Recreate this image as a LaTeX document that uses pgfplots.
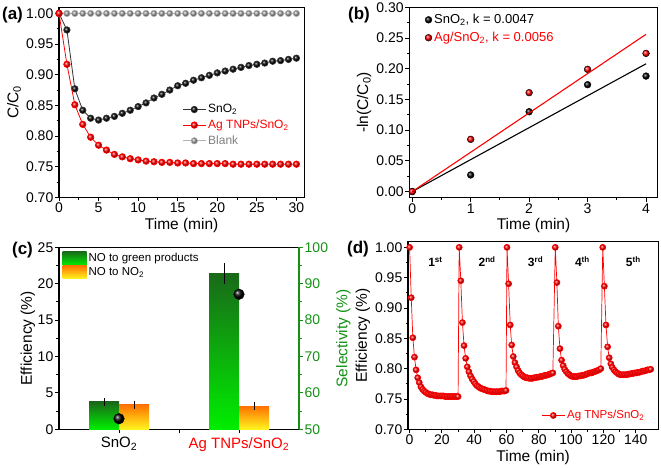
\documentclass[border=0pt]{standalone}
\usepackage{fontspec}
\setmainfont{Liberation Sans}
\usepackage{pgfplots}
\pgfplotsset{compat=1.18}
\definecolor{selgreen}{RGB}{20,145,20}
\definecolor{gtop}{RGB}{25,105,25}
\definecolor{gbot}{RGB}{0,238,0}
\definecolor{otop}{RGB}{255,115,0}
\definecolor{obot}{RGB}{255,245,30}
\newcommand{\tickfont}{\fontsize{14}{16}\selectfont}
\newcommand{\labfont}{\fontsize{15.5}{18}\selectfont}
\pgfplotsset{
  myaxis/.style={
    scale only axis,
    /pgf/number format/assume math mode=true,
    tick label style={font=\tickfont, inner sep=1.5pt},
    label style={font=\labfont},
    axis line style={line width=1.1pt},
    every tick/.style={black, line width=0.9pt},
    major tick length=4pt,
    minor tick length=2.5pt,
    tick align=outside,
    clip mode=individual,
  },
  twodec/.style={yticklabel style={/pgf/number format/.cd, fixed, fixed zerofill, precision=2}},
}
\pgfplotstableread{
t sno ag blank
0 1.000 1.000 1.0
1 0.973 0.917 1.0
2 0.877 0.851 1.0
3 0.842 0.819 1.0
4 0.829 0.798 1.0
5 0.826 0.785 1.0
6 0.829 0.777 1.0
7 0.832 0.770 1.0
8 0.837 0.766 1.0
9 0.842 0.763 1.0
10 0.848 0.761 1.0
11 0.854 0.759 1.0
12 0.862 0.758 1.0
13 0.868 0.757 1.0
14 0.875 0.757 1.0
15 0.882 0.756 1.0
16 0.886 0.756 1.0
17 0.891 0.755 1.0
18 0.895 0.755 1.0
19 0.899 0.755 1.0
20 0.903 0.755 1.0
21 0.906 0.755 1.0
22 0.909 0.754 1.0
23 0.912 0.754 1.0
24 0.915 0.754 1.0
25 0.917 0.754 1.0
26 0.919 0.754 1.0
27 0.922 0.754 1.0
28 0.923 0.754 1.0
29 0.925 0.754 1.0
30 0.927 0.754 1.0
}\dataA
\pgfplotstableread{
t v
0 1.000
1 0.917
2 0.851
3 0.819
4 0.798
5 0.785
6 0.777
7 0.770
8 0.766
9 0.763
10 0.761
11 0.759
12 0.758
13 0.757
14 0.757
15 0.756
16 0.756
17 0.755
18 0.755
19 0.755
20 0.755
21 0.755
22 0.754
23 0.754
24 0.754
25 0.754
26 0.754
27 0.754
28 0.754
29 0.754
30 0.754
30.7 1.000
31.7 0.945
32.7 0.876
33.7 0.838
34.7 0.817
35.7 0.803
36.7 0.795
37.7 0.788
38.7 0.783
39.7 0.779
40.7 0.775
41.7 0.772
42.7 0.770
43.7 0.768
44.7 0.767
45.7 0.766
46.7 0.765
47.7 0.764
48.7 0.763
49.7 0.763
50.7 0.762
51.7 0.762
52.7 0.762
53.7 0.762
54.7 0.762
55.7 0.762
56.7 0.763
57.7 0.763
58.7 0.763
59.7 0.764
60.3 1.000
61.3 0.940
62.3 0.872
63.2 0.839
64.2 0.820
65.2 0.810
66.2 0.803
67.2 0.797
68.1 0.793
69.1 0.790
70.1 0.788
71.1 0.786
72.1 0.785
73.0 0.785
74.0 0.784
75.0 0.784
76.0 0.784
77.0 0.785
77.9 0.785
78.9 0.786
79.9 0.786
80.9 0.787
81.9 0.787
82.8 0.788
83.8 0.789
84.8 0.789
85.8 0.790
86.8 0.791
87.7 0.792
88.7 0.793
90.2 1.000
91.2 0.942
92.1 0.870
93.1 0.833
94.1 0.814
95.1 0.805
96.0 0.799
97.0 0.795
98.0 0.792
98.9 0.790
99.9 0.788
100.9 0.787
101.9 0.787
102.8 0.787
103.8 0.787
104.8 0.788
105.8 0.788
106.7 0.789
107.7 0.789
108.7 0.790
109.6 0.791
110.6 0.792
111.6 0.793
112.6 0.793
113.5 0.794
114.5 0.795
115.5 0.796
116.4 0.797
117.4 0.798
118.4 0.800
119.6 1.000
120.6 0.936
121.6 0.872
122.6 0.836
123.6 0.818
124.6 0.808
125.5 0.802
126.5 0.798
127.5 0.795
128.5 0.793
129.5 0.791
130.5 0.790
131.5 0.790
132.5 0.790
133.5 0.790
134.5 0.790
135.4 0.791
136.4 0.791
137.4 0.792
138.4 0.792
139.4 0.793
140.4 0.793
141.4 0.794
142.4 0.794
143.4 0.795
144.4 0.796
145.3 0.796
146.3 0.797
147.3 0.798
148.3 0.798
149.3 0.799
}\dataD
\begin{document}
\begin{tikzpicture}
\path[use as bounding box] (0pt,0pt) rectangle (661pt,468pt);
% ---------------- (a)
\begin{axis}[myaxis, twodec, tick pos=left,
  at={(59pt,270.7pt)}, anchor=south west, width=245.3pt, height=190pt,
  xmin=0, xmax=31, ymin=0.70, ymax=1.01,
  xtick={0,5,10,15,20,25,30}, ytick={0.70,0.75,0.80,0.85,0.90,0.95,1.00},
  minor x tick num=1, minor y tick num=1,
  xlabel={Time (min)}, ylabel={C/C\textsubscript{0}},
]
\addplot[gray!60, line width=0.7pt, mark=ball, mark size=3.2pt, mark options={ball color=gray!80}] table[x=t,y=blank] {\dataA};
\addplot[black!80, line width=0.8pt, mark=ball, mark size=3.2pt, mark options={ball color=black}] table[x=t,y=sno] {\dataA};
\addplot[red, line width=0.8pt, mark=ball, mark size=3.2pt, mark options={ball color=red}] table[x=t,y=ag] {\dataA};
\end{axis}
% legend for (a)
\begin{axis}[myaxis, at={(59pt,270.7pt)}, anchor=south west, width=245.3pt, height=190pt,
  xmin=0, xmax=31, ymin=0.70, ymax=1.01, hide axis,
  legend style={at={(0.49,0.51)}, anchor=north west, draw=none, fill=none,
    font=\fontsize{12}{14}\selectfont, row sep=1.5pt},
  legend cell align=left,
  legend image code/.code={\draw[mark repeat=2,mark phase=2,#1] plot coordinates {(0pt,0pt)(11.5pt,0pt)(23pt,0pt)};},
]
\addplot[black!80, line width=0.8pt, mark=ball, mark size=3.2pt, mark options={ball color=black}] coordinates {(-5,0)};
\addlegendentry{SnO\textsubscript{2}}
\addplot[red, line width=0.8pt, mark=ball, mark size=3.2pt, mark options={ball color=red}] coordinates {(-5,0)};
\addlegendentry{\textcolor{red}{Ag TNPs/SnO\textsubscript{2}}}
\addplot[gray!60, line width=0.7pt, mark=ball, mark size=3.2pt, mark options={ball color=gray!80}] coordinates {(-5,0)};
\addlegendentry{\textcolor{gray}{Blank}}
\end{axis}
% ---------------- (b)
\begin{axis}[myaxis, twodec, tick pos=left,
  at={(409.3pt,270.3pt)}, anchor=south west, width=248.4pt, height=190.4pt,
  xmin=-0.05, xmax=4.2, ymin=-0.01, ymax=0.30,
  xtick={0,1,2,3,4}, ytick={0,0.05,0.10,0.15,0.20,0.25,0.30},
  minor x tick num=1, minor y tick num=1,
  xlabel={Time (min)}, ylabel={-ln(C/C\textsubscript{0})},
  legend style={at={(0.05,0.985)}, anchor=north west, draw=none, fill=none,
    font=\fontsize{13}{15}\selectfont, row sep=3pt},
  legend cell align=left,
]
\addplot[only marks, mark=ball, mark size=3.4pt, mark options={ball color=black}] coordinates {(0,0)(1,0.027)(2,0.130)(3,0.174)(4,0.188)};
\addlegendentry{SnO\textsubscript{2}, k = 0.0047}
\addplot[only marks, mark=ball, mark size=3.4pt, mark options={ball color=red}] coordinates {(0,0)(1,0.085)(2,0.161)(3,0.199)(4,0.225)};
\addlegendentry{\textcolor{red}{Ag/SnO\textsubscript{2}, k = 0.0056}}
\addplot[black, line width=1.1pt, forget plot] coordinates {(0,0)(4,0.208)};
\addplot[red, line width=1.1pt, forget plot] coordinates {(0,0)(4,0.256)};
\end{axis}
% ---------------- (c)
\begin{axis}[myaxis, tick pos=left,
  at={(59pt,38.7pt)}, anchor=south west, width=240pt, height=182pt,
  xmin=0.5, xmax=2.5, ymin=0, ymax=25,
  xtick={1,1.5,2}, xticklabels={SnO\textsubscript{2},,\textcolor{red}{Ag TNPs/SnO\textsubscript{2}}},
  xticklabel style={font=\fontsize{15}{18}\selectfont, inner sep=4pt},
  ytick={0,5,10,15,20,25}, minor y tick num=1,
  ylabel={Efficiency (\%)}, ylabel shift=-2.5pt,
  legend style={at={(0.01,0.985)}, anchor=north west, draw=none, fill=none,
    font=\fontsize{11.5}{13}\selectfont, row sep=0pt, inner sep=1pt},
  legend cell align=left,
]
\addplot[ybar, bar width=0.25, bar shift=-0.125, draw=none, top color=gtop, bottom color=gbot,
  legend image code/.code={\shade[top color=gtop,bottom color=gbot] (0pt,-7pt) rectangle (24pt,7pt);}]
  coordinates {(1,3.75)};
\addlegendentry{NO to green products}
\addplot[ybar, bar width=0.25, bar shift=0.125, draw=none, top color=otop, bottom color=obot,
  legend image code/.code={\shade[top color=otop,bottom color=obot] (0pt,-6.5pt) rectangle (24pt,6.5pt);}]
  coordinates {(1,3.35)};
\addlegendentry{NO to NO\textsubscript{2}}
\addplot[ybar, bar width=0.25, bar shift=-0.125, draw=none, top color=gtop, bottom color=gbot, forget plot]
  coordinates {(2,21.4)};
\addplot[ybar, bar width=0.25, bar shift=0.125, draw=none, top color=otop, bottom color=obot, forget plot]
  coordinates {(2,3.15)};
\addplot[draw=none, mark=none, forget plot,
  error bars/.cd, y dir=both, y explicit,
  error bar style={black, line width=0.9pt},
  error mark options={black, mark size=2.5pt, line width=0.9pt}]
  coordinates {(0.875,3.75) +- (0,0.2) (1.125,3.35) +- (0,0.25) (1.875,21.4) +- (0,1.1) (2.125,3.15) +- (0,0.2)};
\end{axis}
\begin{axis}[myaxis,
  at={(59pt,38.7pt)}, anchor=south west, width=240pt, height=182pt,
  xmin=0.5, xmax=2.5, ymin=50, ymax=100,
  axis y line*=right, axis x line=none,
  ytick pos=right, yticklabel pos=right,
  ytick={50,60,70,80,90,100}, minor y tick num=1,
  y axis line style={selgreen, line width=1.1pt},
  every tick/.style={selgreen, line width=0.9pt},
  yticklabel style={text=selgreen},
  ylabel style={text=selgreen},
  ylabel={Selectivity (\%)}, ylabel shift=3pt,
]
\addplot[only marks, mark=ball, mark size=5.3pt, mark options={ball color=black}] coordinates {(1,52.9)(2,87.1)};
\end{axis}
% ---------------- (d)
\begin{axis}[myaxis, twodec, tick pos=left,
  at={(408pt,38.7pt)}, anchor=south west, width=250.3pt, height=188pt,
  xmin=-1, xmax=154, ymin=0.70, ymax=1.01,
  xtick={0,20,40,60,80,100,120,140}, ytick={0.70,0.75,0.80,0.85,0.90,0.95,1.00},
  minor x tick num=1, minor y tick num=1,
  xlabel={Time (min)}, ylabel={Efficiency (\%)},
  legend style={at={(0.965,0.025)}, anchor=south east, draw=none, fill=none,
    font=\fontsize{11.5}{13}\selectfont},
  legend image code/.code={\draw[mark repeat=2,mark phase=2,#1] plot coordinates {(0pt,0pt)(11.5pt,0pt)(23pt,0pt)};},
]
\addplot[red, line width=0.7pt, mark=ball, mark size=3pt, mark options={ball color=red}] table[x=t,y=v] {\dataD};
\addlegendentry{\textcolor{red}{Ag TNPs/SnO\textsubscript{2}}}
\node[font=\bfseries\fontsize{12}{14}\selectfont] at (axis cs:16,0.976) {1\textsuperscript{st}};
\node[font=\bfseries\fontsize{12}{14}\selectfont] at (axis cs:48,0.976) {2\textsuperscript{nd}};
\node[font=\bfseries\fontsize{12}{14}\selectfont] at (axis cs:78,0.976) {3\textsuperscript{rd}};
\node[font=\bfseries\fontsize{12}{14}\selectfont] at (axis cs:107,0.976) {4\textsuperscript{th}};
\node[font=\bfseries\fontsize{12}{14}\selectfont] at (axis cs:138.5,0.976) {5\textsuperscript{th}};
\end{axis}
% panel labels
\node[font=\bfseries\fontsize{17}{20}\selectfont] at (12.5pt,452.5pt) {(a)};
\node[font=\bfseries\fontsize{17}{20}\selectfont] at (359pt,452.5pt) {(b)};
\node[font=\bfseries\fontsize{17}{20}\selectfont] at (22.5pt,218.3pt) {(c)};
\node[font=\bfseries\fontsize{17}{20}\selectfont] at (358pt,219pt) {(d)};
\end{tikzpicture}
\end{document}
